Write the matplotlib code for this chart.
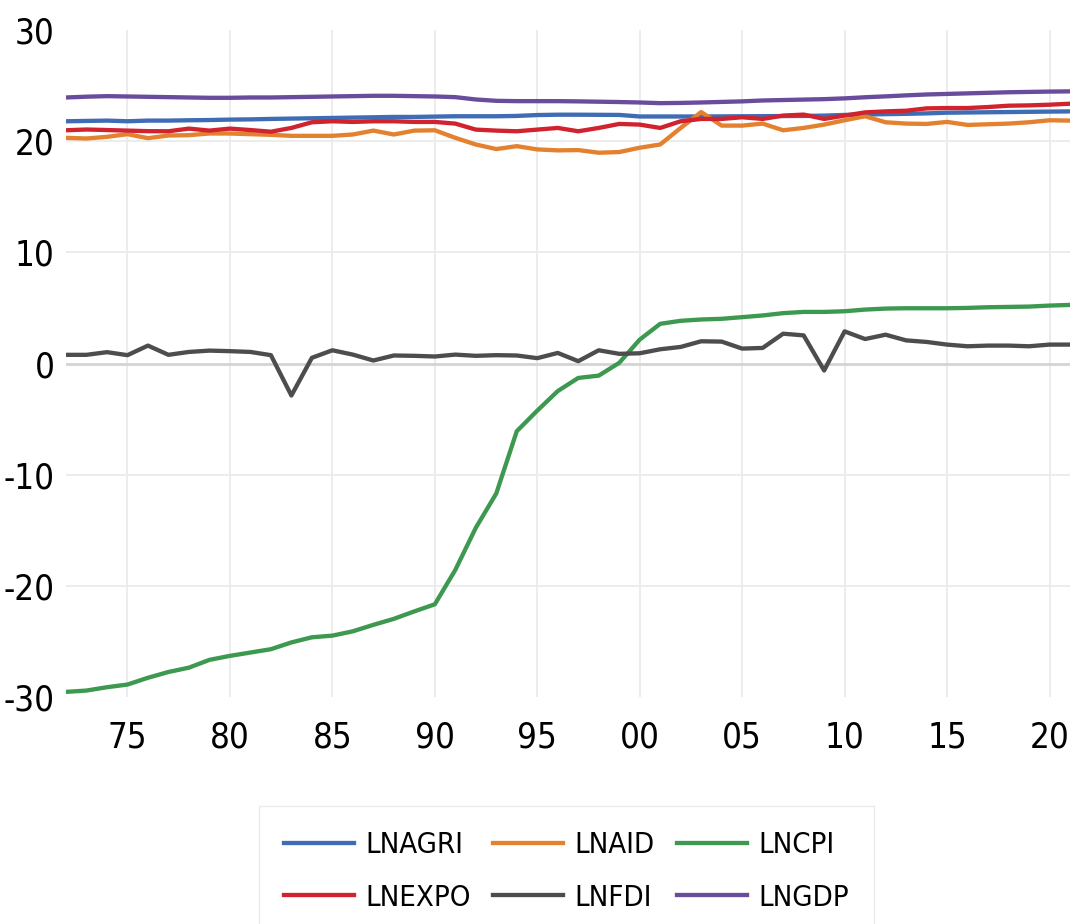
import matplotlib.pyplot as plt

years = list(range(1972, 2022))

lnagri = [21.79, 21.82, 21.85, 21.79, 21.85, 21.85, 21.88, 21.90, 21.94, 21.96,
          22.00, 22.03, 22.06, 22.09, 22.12, 22.15, 22.18, 22.18, 22.21, 22.24,
          22.24, 22.24, 22.27, 22.35, 22.38, 22.38, 22.37, 22.36, 22.22, 22.22,
          22.22, 22.22, 22.23, 22.24, 22.25, 22.26, 22.27, 22.30, 22.36, 22.40,
          22.43, 22.46, 22.50, 22.56, 22.58, 22.60, 22.62, 22.64, 22.66, 22.68]
lnaid = [20.30, 20.24, 20.39, 20.63, 20.27, 20.51, 20.54, 20.69, 20.69, 20.63,
         20.57, 20.48, 20.48, 20.48, 20.60, 20.95, 20.60, 20.95, 20.98, 20.30,
         19.70, 19.29, 19.55, 19.26, 19.17, 19.20, 18.96, 19.02, 19.41, 19.70,
         21.19, 22.62, 21.40, 21.40, 21.58, 20.98, 21.19, 21.49, 21.88, 22.24,
         21.70, 21.58, 21.55, 21.73, 21.46, 21.52, 21.58, 21.70, 21.88, 21.85]
lncpi = [-29.54, -29.42, -29.12, -28.88, -28.27, -27.75, -27.36, -26.66, -26.30, -26.00,
         -25.70, -25.09, -24.63, -24.48, -24.09, -23.51, -22.97, -22.30, -21.66, -18.57,
         -14.78, -11.69, -6.09, -4.24, -2.48, -1.30, -1.09, 0.06, 2.15, 3.57,
         3.84, 3.96, 4.02, 4.17, 4.32, 4.53, 4.64, 4.64, 4.70, 4.85,
         4.94, 4.97, 4.97, 4.97, 5.00, 5.06, 5.09, 5.12, 5.21, 5.27]
lnexpo = [20.98, 21.05, 21.00, 20.95, 20.90, 20.89, 21.13, 20.95, 21.13, 21.00,
          20.85, 21.19, 21.70, 21.79, 21.73, 21.79, 21.79, 21.73, 21.73, 21.58,
          21.04, 20.95, 20.89, 21.04, 21.19, 20.89, 21.19, 21.55, 21.49, 21.19,
          21.79, 22.00, 22.00, 22.15, 22.00, 22.30, 22.39, 22.00, 22.30, 22.59,
          22.68, 22.74, 22.95, 22.98, 22.98, 23.07, 23.19, 23.22, 23.28, 23.37]
lnfdi = [0.78, 0.78, 1.02, 0.75, 1.61, 0.78, 1.04, 1.16, 1.11, 1.04,
         0.75, -2.88, 0.51, 1.19, 0.80, 0.27, 0.72, 0.69, 0.63, 0.80,
         0.69, 0.75, 0.72, 0.48, 0.95, 0.21, 1.19, 0.87, 0.92, 1.28,
         1.49, 2.00, 1.97, 1.34, 1.40, 2.68, 2.53, -0.63, 2.89, 2.20,
         2.59, 2.08, 1.94, 1.70, 1.55, 1.61, 1.61, 1.55, 1.70, 1.70]
lngdp = [23.93, 24.00, 24.05, 24.02, 23.99, 23.96, 23.93, 23.90, 23.90, 23.93,
         23.93, 23.96, 23.99, 24.02, 24.05, 24.08, 24.08, 24.05, 24.02, 23.96,
         23.75, 23.63, 23.60, 23.60, 23.60, 23.58, 23.55, 23.52, 23.48, 23.42,
         23.44, 23.48, 23.53, 23.58, 23.66, 23.70, 23.74, 23.78, 23.85, 23.95,
         24.03, 24.12, 24.20, 24.25, 24.30, 24.35, 24.40, 24.43, 24.46, 24.48]

series = [('LNAGRI', lnagri, '#3E6DB5'),
          ('LNAID', lnaid, '#E3812F'),
          ('LNCPI', lncpi, '#3D9850'),
          ('LNEXPO', lnexpo, '#D1232E'),
          ('LNFDI', lnfdi, '#4D4D4F'),
          ('LNGDP', lngdp, '#6A4C9C')]

xticks = list(range(1975, 2021, 5))
xlabels = ['75', '80', '85', '90', '95', '00', '05', '10', '15', '20']
yticks = [-30, -20, -10, 0, 10, 20, 30]

plt.rcParams['font.family'] = ['DejaVu Sans']
plt.rcParams['font.stretch'] = 'condensed'
plt.rcParams['axes.unicode_minus'] = False

fig = plt.figure(figsize=(10.75, 9.24), dpi=100)
ax = fig.add_axes([66 / 1075, 1 - 697 / 924, 1004 / 1075, 667 / 924])

for y in [-20, -10, 10, 20]:
    ax.axhline(y, color='#EBEBEB', lw=1.3, zorder=0)
for x in xticks:
    ax.axvline(x, color='#EBEBEB', lw=1.3, zorder=0)
ax.axhline(0, color='#D4D4D4', lw=2, zorder=1)

lines = {}
for name, vals, color in series:
    lines[name], = ax.plot(years, vals, color=color, lw=3.1, label=name, zorder=2)

ax.set_xlim(1972, 2021)
ax.set_ylim(-30, 30)
ax.set_xticks(xticks)
ax.set_xticklabels(xlabels)
ax.set_yticks(yticks)
ax.tick_params(axis='x', length=0, pad=17, labelsize=25)
ax.tick_params(axis='y', length=0, pad=8, labelsize=25)
for s in ax.spines.values():
    s.set_visible(False)

# legend fills row by row like the original
order = ['LNAGRI', 'LNEXPO', 'LNAID', 'LNFDI', 'LNCPI', 'LNGDP']
fig.legend([lines[n] for n in order], order,
           loc='upper center', bbox_to_anchor=(566.5 / 1075, 1 - 806 / 924),
           borderaxespad=0, ncol=3, fontsize=21, frameon=True, fancybox=False,
           edgecolor='#E6E6E6', handlelength=2.4, handletextpad=0.4,
           columnspacing=0.75, labelspacing=0.85, borderpad=0.85)

plt.savefig('out.png', dpi=100)
